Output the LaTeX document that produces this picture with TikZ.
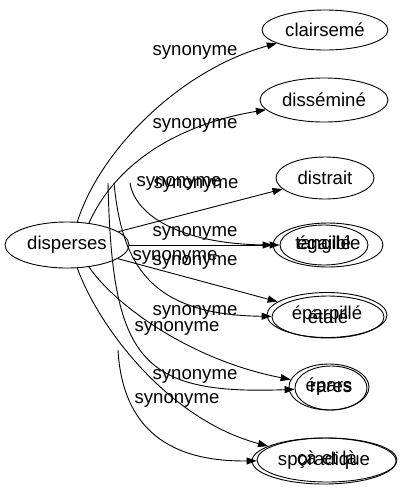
\documentclass[tikz,border=0pt]{standalone}
\usepackage{fontspec}
\setmainfont{Liberation Sans}
\usetikzlibrary{shapes.geometric}
\usetikzlibrary{arrows.meta}

\begin{document}
\begin{tikzpicture}[
    >={Triangle[length=10pt,width=7pt]},
    x=1pt, y=-1pt,
    line width=0.9pt,
    word/.style={ellipse, draw, inner sep=0pt,
      font=\fontsize{18.6}{20}\selectfont},
    syn/.style={inner sep=0pt, font=\fontsize{18.6}{20}\selectfont},
  ]
  \useasboundingbox (0,0) rectangle (402,491);

  % Source word
  \node[word, minimum width=124pt, minimum height=46pt] (disperses) at (67,245) {disperses};

  % Synonyms on the right
  \node[word, minimum width=126pt, minimum height=40pt] (clairseme)  at (325,30)  {clairsemé};
  \node[word, minimum width=128pt, minimum height=44pt] (dissemine)  at (324,100) {disséminé};
  \node[word, minimum width=98pt,  minimum height=42pt] (distrait)   at (325,178) {distrait};
  \node[word, minimum width=110pt, minimum height=44pt] (tangible)   at (328,245) {tangible};
  \node[word, minimum width=88pt,  minimum height=40pt] (egaille)    at (324,245) {égaillé};
  \node[word, minimum width=120pt, minimum height=45pt] (eparpille)  at (327,315) {éparpillé};
  \node[word, minimum width=112pt, minimum height=42pt] (etale)      at (328,317) {étalé};
  \node[word, minimum width=80pt,  minimum height=46pt] (epars)      at (329,387) {épars};
  \node[word, minimum width=72pt,  minimum height=44pt] (rares)      at (331,388) {rares};
  \node[word, minimum width=144pt, minimum height=46pt] (sporadique) at (324,461) {sporadique};
  \node[word, minimum width=140pt, minimum height=44pt] (caetla)     at (327,460) {çà et là};

  % Loose ends of the second set of edges
  \coordinate (ghost1) at (130,183);
  \coordinate (ghost2) at (114,183);
  \coordinate (ghost3) at (108,183);
  \coordinate (ghost4) at (118,350);

  % Edges from "disperses"
  \draw[->] (disperses.66) .. controls (100,150) and (180,70) .. (clairseme);
  \draw[->] (disperses.45) .. controls (115,165) and (175,125) .. (dissemine);
  \draw[->] (disperses) -- (distrait);
  \draw[->] (disperses) -- (tangible);
  \draw[->] (disperses) -- (eparpille);
  \draw[->] (disperses.-45) .. controls (115,305) and (190,360) .. (epars);
  \draw[->] (disperses.-66) .. controls (100,330) and (170,420) .. (sporadique);

  % Edges with loose ends
  \draw[->] (ghost1) .. controls (135,215) and (180,245) .. (egaille);
  \draw[->] (ghost2) .. controls (122,265) and (150,315) .. (etale);
  \draw[->] (ghost3) .. controls (112,360) and (140,395) .. (rares);
  \draw[->] (ghost4) .. controls (122,420) and (160,462) .. (caetla);

  % Edge labels
  \node[syn] (lab-clairseme)  at (195,52)  {synonyme};
  \node[syn] (lab-dissemine)  at (195,125) {synonyme};
  \node[syn] (lab-distrait)   at (196,185) {synonyme};
  \node[syn] (lab-tangible)   at (195,233) {synonyme};
  \node[syn] (lab-eparpille)  at (195,262) {synonyme};
  \node[syn] (lab-epars)      at (195,312) {synonyme};
  \node[syn] (lab-sporadique) at (195,376) {synonyme};
  \node[syn] (lab-egaille)    at (179,183) {synonyme};
  \node[syn] (lab-etale)      at (175,257) {synonyme};
  \node[syn] (lab-rares)      at (177,328) {synonyme};
  \node[syn] (lab-caetla)     at (177,400) {synonyme};

\end{tikzpicture}
\end{document}
